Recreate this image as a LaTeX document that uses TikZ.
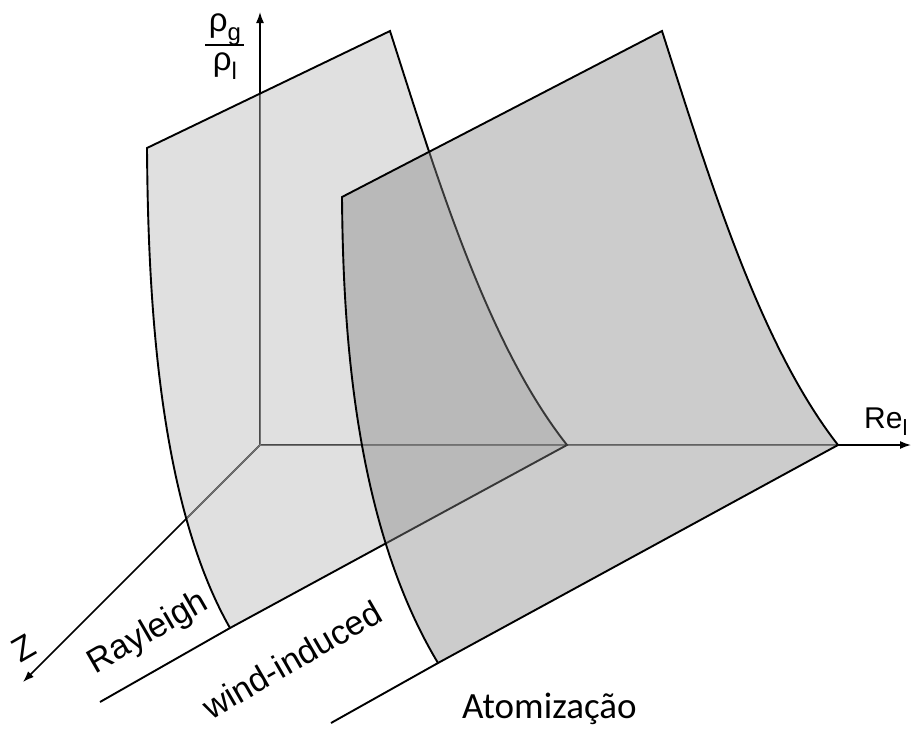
\documentclass[tikz,border=0pt]{standalone}
\usepackage{fontspec}
\setmainfont{Liberation Sans}
\newfontfamily\calib{Carlito}
\usetikzlibrary{arrows.meta}
\newcommand{\lowsub}[1]{\raisebox{-0.28em}{\fontsize{24}{28}\selectfont #1}}
\newcommand{\resub}[1]{\raisebox{-0.25em}{\fontsize{22}{26}\selectfont #1}}
\begin{document}
\begin{tikzpicture}[x=1pt,y=-1pt,
  axis/.style={line width=1.5pt,-{Latex[length=11pt,width=8pt]}},
  hidden/.style={line width=1.5pt,draw=black!55},
  edge/.style={line width=1.9pt,line join=miter},
  lbl/.style={font=\fontsize{34}{40}\selectfont,inner sep=0pt},
  s1fill/.style={fill=black!12},
  s2fill/.style={fill=black!48,fill opacity=0.42}]
\useasboundingbox (0,0) rectangle (913,731);
% coordinates
\coordinate (O) at (260,445);
\coordinate (ytip) at (260,12);
\coordinate (xtip) at (911,445);
\coordinate (ztip) at (23,682);
\coordinate (A1) at (147,148);
\coordinate (B1) at (390,31);
\coordinate (C1) at (567,445);
\coordinate (D1) at (230,628);
\coordinate (E1) at (100,702);
\coordinate (A2) at (342,197);
\coordinate (B2) at (662,31);
\coordinate (C2) at (838,445);
\coordinate (D2) at (438,663);
\coordinate (E2) at (331,723);
% surface 1 fill
\fill[s1fill] (A1) -- (B1) .. controls (438,181) and (488,345) .. (C1) -- (D1) .. controls (157,500) and (148,290) .. (A1) -- cycle;
% axes
\draw[axis] (O) -- (ytip);
\draw[axis] (O) -- (xtip);
\draw[axis] (O) -- (ztip);
\begin{scope}
\clip (A1) -- (B1) .. controls (438,181) and (488,345) .. (C1) -- (D1) .. controls (157,500) and (148,290) .. (A1) -- cycle;
\draw[hidden] (O) -- (ytip) (O) -- (xtip) (O) -- (ztip);
\end{scope}
\begin{scope}
\clip (A2) -- (B2) .. controls (710,181) and (760,345) .. (C2) -- (D2) .. controls (352,520) and (343,320) .. (A2) -- cycle;
\draw[hidden] (O) -- (ytip) (O) -- (xtip) (O) -- (ztip);
\end{scope}
% surface 1 edges
\draw[edge] (A1) -- (B1) .. controls (438,181) and (488,345) .. (C1) -- (D1) .. controls (157,500) and (148,290) .. (A1) -- cycle;
\draw[edge] (D1) -- (E1);
% surface 2
\fill[s2fill] (A2) -- (B2) .. controls (710,181) and (760,345) .. (C2) -- (D2) .. controls (352,520) and (343,320) .. (A2) -- cycle;
\draw[edge] (A2) -- (B2) .. controls (710,181) and (760,345) .. (C2) -- (D2) .. controls (352,520) and (343,320) .. (A2) -- cycle;
\draw[edge] (D2) -- (E2);
% labels
\node[lbl,anchor=base,rotate=30] (ray) at (153,641) {Rayleigh};
\node[lbl,anchor=base,rotate=30] (wind) at (298,670) {wind-induced};
\node[lbl,rotate=30] (zl) at (24,648) {Z};
\node[inner sep=0pt,anchor=base west,font=\fontsize{30}{36}\selectfont] (re) at (864,428) {Re\resub{l}};
\node[inner sep=0pt,anchor=base west,font=\calib\fontsize{37}{42}\selectfont] (atom) at (462,718) {Atomização};
\node[inner sep=0pt,anchor=base,font=\fontsize{33}{38}\selectfont] (rg) at (225,31) {ρ\lowsub{g}};
\node[inner sep=0pt,anchor=base,font=\fontsize{33}{38}\selectfont] (rl) at (225,70) {ρ\lowsub{l}};
\draw[line width=1.6pt] (205,45) -- (244,45);
\end{tikzpicture}
\end{document}
